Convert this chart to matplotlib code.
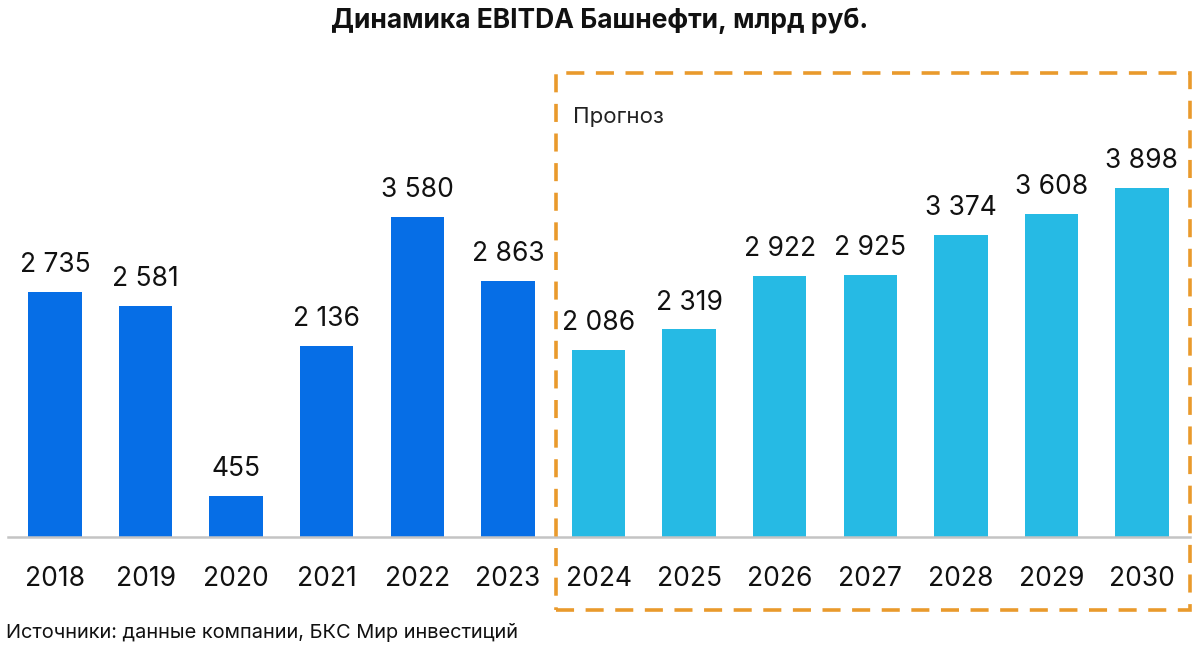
import matplotlib
matplotlib.use("Agg")
import matplotlib.pyplot as plt
from matplotlib.patches import Rectangle

years = ["2018", "2019", "2020", "2021", "2022", "2023", "2024",
         "2025", "2026", "2027", "2028", "2029", "2030"]
values = [2735, 2581, 455, 2136, 3580, 2863, 2086,
          2319, 2922, 2925, 3374, 3608, 3898]
labels = ["2 735", "2 581", "455", "2 136", "3 580", "2 863", "2 086",
          "2 319", "2 922", "2 925", "3 374", "3 608", "3 898"]
forecast = [False] * 6 + [True] * 7

title = "Динамика EBITDA Башнефти, млрд руб."
source = "Источники: данные компании, БКС Мир инвестиций"
forecast_label = "Прогноз"

plt.rcParams['font.family'] = ['Inter', 'DejaVu Sans']

W, H = 1200, 648
fig = plt.figure(figsize=(W / 100, H / 100), dpi=100)
ax = fig.add_axes([8 / W, 1 - 537 / H, (1190 - 8) / W, (537 - 60) / H])

dark = "#066EE6"
light = "#26BAE4"
colors = [light if f else dark for f in forecast]
x = list(range(len(years)))
ax.bar(x, values, width=0.59, color=colors, zorder=2)

ax.set_xlim(-0.519, 12.53)
ax.set_ylim(0, 5330)
for i, (v, lab) in enumerate(zip(values, labels)):
    ax.annotate(lab, (i, v), xytext=(0, 10), textcoords="offset points",
                ha="center", va="bottom", fontsize=19, color="#111111")

for s in ["top", "right", "left"]:
    ax.spines[s].set_visible(False)
ax.spines["bottom"].set_color("#C4C4C4")
ax.spines["bottom"].set_linewidth(1.8)
ax.set_yticks([])
ax.set_xticks(x)
ax.set_xticklabels(years, fontsize=19, color="#111111")
ax.tick_params(axis="x", length=0, pad=21)

fig.text(0.5, 1 - 21 / H, title, ha="center", va="center",
         fontsize=19, fontweight="bold", color="#111111")
fig.text(6 / W, 1 - 632 / H, source, ha="left", va="center",
         fontsize=14.4, color="#111111")
fig.text(573 / W, 1 - 117 / H, forecast_label, ha="left", va="center",
         fontsize=16, color="#222222")

rect = Rectangle((556 / W, 1 - 610 / H), (1190 - 556) / W, (610 - 73) / H,
                 transform=fig.transFigure, fill=False,
                 edgecolor="#E99A2C", linewidth=2.6, linestyle=(0, (5, 3.2)),
                 clip_on=False, zorder=5)
fig.patches.append(rect)

fig.savefig("out.png", dpi=100, facecolor="white")
